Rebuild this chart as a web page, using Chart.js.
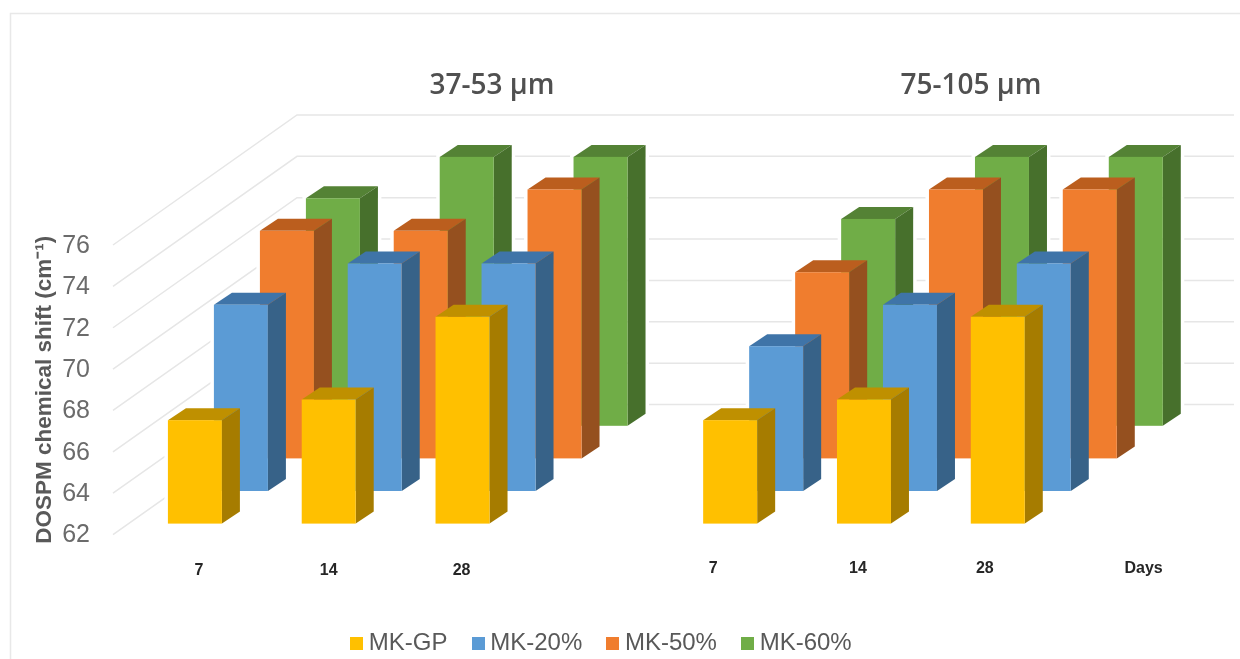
<!DOCTYPE html>
<html>
<head>
<meta charset="utf-8">
<title>DOSPM chemical shift</title>
<script src="https://cdn.jsdelivr.net/npm/chart.js@4/dist/chart.umd.min.js"></script>
<style>
    html, body { margin: 0; padding: 0; background: #fff; }
    canvas { display: block; }
</style>
</head>
<body>
<canvas id="shift-chart" width="1240" height="659"></canvas>
<script>
// Chemical shift per curing age, two particle size groups side by side
const days = ['7', '14', '28', '', '7', '14', '28', 'Days'];
const mkGP = [67, 68, 72, null, 67, 68, 72, null];
const mk20 = [71, 73, 73, null, 69, 71, 73, null];
const mk50 = [73, 73, 75, null, 71, 75, 75, null];
const mk60 = [73, 75, 75, null, 72, 75, 75, null];
const seriesNames = ['MK-GP', 'MK-20%', 'MK-50%', 'MK-60%'];
const groupTitles = ['37-53 µm', '75-105 µm'];
const yTicks = [62, 64, 66, 68, 70, 72, 74, 76];

// Face colours of each series: front, top, side
const frontColors = ['#FFC000', '#5B9BD5', '#F07D2E', '#70AD47'];
const topColors = ['#BF9000', '#3F74A8', '#BB5E1E', '#548235'];
const sideColors = ['#A67C00', '#376288', '#95501F', '#47702C'];

// 3D look: each series sits one step further back than the one before it
const FRONT_LIFT = 11;
const STEP_X = 46;
const STEP_Y = 32.6;
const BOX_X = 18;
const BOX_Y = 12;
const WALL_X = 184;
const WALL_Y = 130;

// The category labels are not quite centred under their bars
const dayLabelShift = [4, 0, -1, 0, -17, -6, -13, 12];
const TEXT_FONT = '"Liberation Sans", Arial, sans-serif';

function makeSwatch(color) {
    const swatch = document.createElement('canvas');
    swatch.width = 13;
    swatch.height = 13;
    const c = swatch.getContext('2d');
    c.fillStyle = color;
    c.fillRect(0, 0, 13, 13);
    return swatch;
}

function drawGrid(ctx, chart) {
    const y = chart.scales.y;
    const left = chart.chartArea.left - 15;
    ctx.strokeStyle = '#e6e6e6';
    ctx.lineWidth = 1.5;
    yTicks.forEach(tick => {
        const py = y.getPixelForValue(tick);
        ctx.beginPath();
        ctx.moveTo(left, py);
        ctx.lineTo(left + WALL_X, py - WALL_Y);
        ctx.lineTo(1234, py - WALL_Y);
        ctx.stroke();
    });
}

function barCorners(el, level) {
    const x0 = el.x - el.width / 2 + level * STEP_X;
    const lift = FRONT_LIFT + level * STEP_Y;
    return { x0: x0, x1: x0 + el.width, top: el.y - lift, bottom: el.base - lift };
}

function fillPolygon(ctx, color, points) {
    ctx.fillStyle = color;
    ctx.beginPath();
    points.forEach((p, i) => i ? ctx.lineTo(p[0], p[1]) : ctx.moveTo(p[0], p[1]));
    ctx.closePath();
    ctx.fill();
}

function outlinePath(ctx, b) {
    ctx.beginPath();
    ctx.moveTo(b.x0, b.bottom);
    ctx.lineTo(b.x0, b.top);
    ctx.lineTo(b.x0 + BOX_X, b.top - BOX_Y);
    ctx.lineTo(b.x1 + BOX_X, b.top - BOX_Y);
    ctx.lineTo(b.x1 + BOX_X, b.bottom - BOX_Y);
    ctx.lineTo(b.x1, b.bottom);
    ctx.closePath();
}

function drawBar(ctx, b, level) {
    fillPolygon(ctx, topColors[level], [
        [b.x0, b.top], [b.x0 + BOX_X, b.top - BOX_Y], [b.x1 + BOX_X, b.top - BOX_Y], [b.x1, b.top]
    ]);
    fillPolygon(ctx, sideColors[level], [
        [b.x1, b.top], [b.x1 + BOX_X, b.top - BOX_Y], [b.x1 + BOX_X, b.bottom - BOX_Y], [b.x1, b.bottom]
    ]);
    ctx.fillStyle = frontColors[level];
    ctx.fillRect(b.x0, b.top, b.x1 - b.x0, b.bottom - b.top);
}

// Replaces the flat bars with boxes, back row first
const boxBars = {
    id: 'boxBars',
    beforeDatasetsDraw(chart) {
        const ctx = chart.ctx;
        ctx.save();
        drawGrid(ctx, chart);

        const rows = [];
        for (let level = chart.data.datasets.length - 1; level >= 0; level--) {
            const values = chart.data.datasets[level].data;
            const boxes = chart.getDatasetMeta(level).data
                .filter((el, i) => values[i] !== null)
                .map(el => barCorners(el, level));
            rows.push({ level: level, boxes: boxes });
        }

        // white edge keeps the grid lines from touching the bars
        ctx.strokeStyle = '#fff';
        ctx.lineWidth = 7;
        rows.forEach(row => row.boxes.forEach(b => {
            outlinePath(ctx, b);
            ctx.stroke();
        }));
        rows.forEach(row => row.boxes.forEach(b => drawBar(ctx, b, row.level)));

        ctx.restore();
        return false;
    },
    afterDraw(chart) {
        const ctx = chart.ctx;
        ctx.save();

        // frame
        ctx.strokeStyle = '#e8e8e8';
        ctx.lineWidth = 1.5;
        ctx.beginPath();
        ctx.moveTo(10.5, 659);
        ctx.lineTo(10.5, 13.5);
        ctx.lineTo(1240, 13.5);
        ctx.stroke();

        // group headings
        ctx.font = '600 28px "Open Sans", sans-serif';
        ctx.fillStyle = '#505050';
        ctx.textAlign = 'center';
        ctx.textBaseline = 'middle';
        ctx.fillText(groupTitles[0], 492, 86);
        ctx.fillText(groupTitles[1], 971, 86);

        // curing age labels
        const x = chart.scales.x;
        ctx.font = 'bold 16px ' + TEXT_FONT;
        ctx.fillStyle = '#262626';
        days.forEach((day, i) => {
            ctx.fillText(day, x.getPixelForValue(i) + dayLabelShift[i], i < 4 ? 571 : 569);
        });
        ctx.restore();
    }
};

const shiftChart = new Chart(document.getElementById('shift-chart').getContext('2d'), {
    type: 'bar',
    data: {
        labels: days,
        datasets: [mkGP, mk20, mk50, mk60].map((values, i) => ({
            label: seriesNames[i],
            data: values,
            backgroundColor: frontColors[i],
            base: yTicks[0],
            barThickness: 54,
            grouped: false
        }))
    },
    options: {
        responsive: false,
        animation: false,
        layout: { padding: { left: 10, right: 41.5, top: 245, bottom: -6.5 } },
        plugins: {
            tooltip: { enabled: false },
            legend: {
                position: 'bottom',
                labels: {
                    usePointStyle: true,
                    boxWidth: 0.01,
                    padding: 30.7,
                    color: '#595959',
                    font: { family: TEXT_FONT, size: 24 },
                    generateLabels: chart => chart.data.datasets.map((ds, i) => ({
                        text: ds.label,
                        datasetIndex: i,
                        pointStyle: makeSwatch(frontColors[i]),
                        fontColor: '#595959',
                        lineWidth: 0
                    }))
                }
            }
        },
        scales: {
            x: {
                grid: { display: false },
                border: { display: false },
                ticks: { display: false },
                afterFit: scale => { scale.height = 66.2; }
            },
            y: {
                min: 62,
                max: 76,
                grid: { display: false, drawTicks: false },
                border: { display: false },
                ticks: {
                    stepSize: 2,
                    padding: 38,
                    labelOffset: 1,
                    color: '#6b6b6b',
                    font: { family: TEXT_FONT, size: 25 }
                },
                title: {
                    display: true,
                    text: 'DOSPM chemical shift (cm⁻¹)',
                    color: '#595959',
                    padding: { top: 21, bottom: 0 },
                    font: { family: TEXT_FONT, size: 22.5, weight: 'bold' }
                },
                afterFit: scale => { scale.width = 118; }
            }
        }
    },
    plugins: [boxBars]
});
</script>
</body>
</html>
